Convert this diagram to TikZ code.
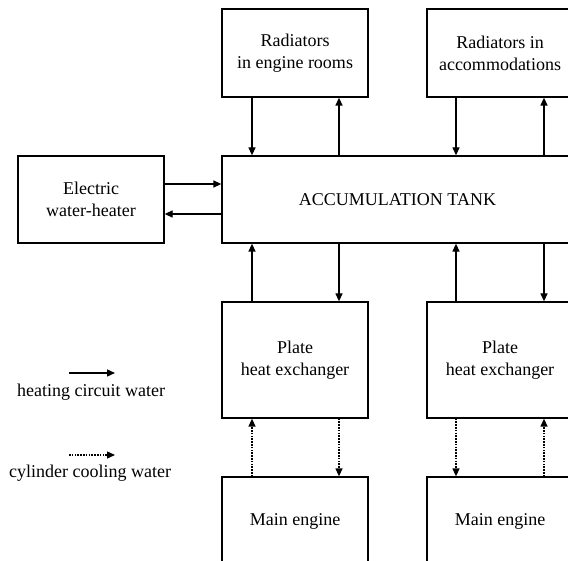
\documentclass[tikz,border=0pt]{standalone}
\usepackage{fontspec}
\setmainfont{Liberation Serif}
\usetikzlibrary{arrows.meta}
\begin{document}
\begin{tikzpicture}[x=1pt,y=-1pt,
  box/.style={draw, line width=1.3pt, inner sep=0pt, align=center,
    font=\fontsize{18}{22}\selectfont},
  flow/.style={line width=1.3pt, -{Triangle[length=8pt,width=7pt]}},
  cool/.style={flow, dash pattern=on 1.5pt off 1.3pt},
  lbl/.style={inner sep=0pt, font=\fontsize{18}{22}\selectfont}]
\useasboundingbox (0,0) rectangle (568,561);
\clip (0,0) rectangle (568,561);
\fill[white] (0,0) rectangle (568,561);
\node[box, minimum width=146pt, minimum height=88pt] (rer) at (295,53) {Radiators\\in engine rooms};
\node[box, minimum width=146pt, minimum height=88pt] (rac) at (500,53) {Radiators in\\accommodations};
\node[box, minimum width=351pt, minimum height=87pt] (tank) at (397.5,199.5) {ACCUMULATION TANK};
\node[box, minimum width=146pt, minimum height=87pt] (heat) at (91,199.5) {Electric\\water-heater};
\node[box, minimum width=146pt, minimum height=116pt] (px1) at (295,360) {Plate\\heat exchanger};
\node[box, minimum width=146pt, minimum height=116pt] (px2) at (500,360) {Plate\\heat exchanger};
\node[box, minimum width=146pt, minimum height=88pt] (me1) at (295,521) {Main engine};
\node[box, minimum width=146pt, minimum height=88pt] (me2) at (500,521) {Main engine};
% radiators <-> tank
\draw[flow] ([xshift=-43pt]rer.south) -- ([xshift=-43pt]rer.south |- tank.north);
\draw[flow] ([xshift=44pt]rer.south |- tank.north) -- ([xshift=44pt]rer.south);
\draw[flow] ([xshift=-44pt]rac.south) -- ([xshift=-44pt]rac.south |- tank.north);
\draw[flow] ([xshift=44pt]rac.south |- tank.north) -- ([xshift=44pt]rac.south);
% heater <-> tank
\draw[flow] ([yshift=15.5pt]heat.east) -- ([yshift=15.5pt]heat.east -| tank.west);
\draw[flow] ([yshift=-14.5pt]heat.east -| tank.west) -- ([yshift=-14.5pt]heat.east);
% tank <-> plate exchangers
\draw[flow] ([xshift=-43pt]px1.north) -- ([xshift=-43pt]px1.north |- tank.south);
\draw[flow] ([xshift=44pt]px1.north |- tank.south) -- ([xshift=44pt]px1.north);
\draw[flow] ([xshift=-44pt]px2.north) -- ([xshift=-44pt]px2.north |- tank.south);
\draw[flow] ([xshift=44pt]px2.north |- tank.south) -- ([xshift=44pt]px2.north);
% engines <-> plate exchangers
\draw[cool] ([xshift=-43pt]me1.north) -- ([xshift=-43pt]me1.north |- px1.south);
\draw[cool] ([xshift=44pt]me1.north |- px1.south) -- ([xshift=44pt]me1.north);
\draw[cool] ([xshift=-44pt]px2.south) -- ([xshift=-44pt]px2.south |- me2.north);
\draw[cool] ([xshift=44pt]px2.south |- me2.north) -- ([xshift=44pt]px2.south);
% legend
\coordinate (la) at (69,373);
\coordinate (lb) at (115,373);
\draw[flow] (la) -- (lb);
\node[lbl] (lt1) at (91,392) {heating circuit water};
\coordinate (lc) at (69,455);
\coordinate (ld) at (115,455);
\draw[cool] (lc) -- (ld);
\node[lbl] (lt2) at (90,473) {cylinder cooling water};
\end{tikzpicture}
\end{document}
